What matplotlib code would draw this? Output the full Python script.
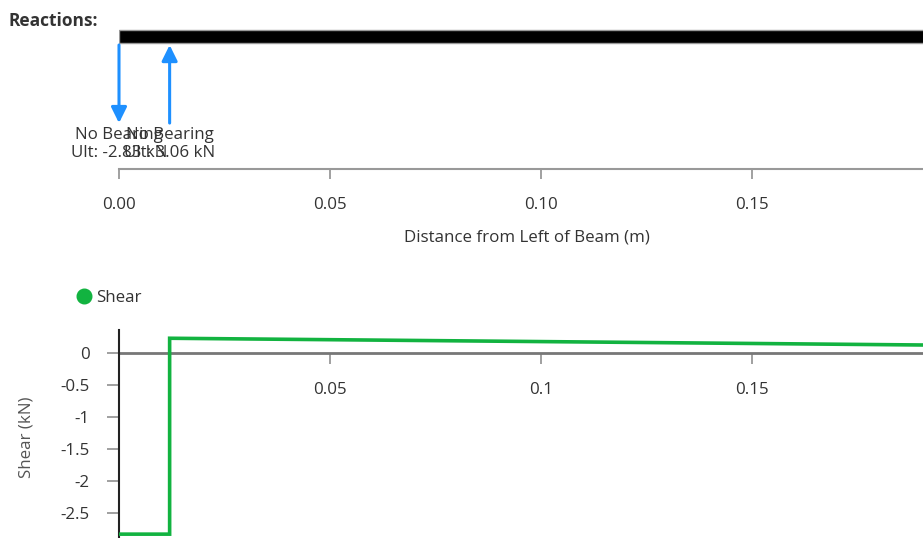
import matplotlib
matplotlib.use("Agg")
import matplotlib.pyplot as plt
from matplotlib.lines import Line2D

plt.rcParams['font.family'] = ['Open Sans', 'DejaVu Sans']

# --- data -------------------------------------------------------------
x_ticks = [0.0, 0.05, 0.10, 0.15]
x_tick_labels_top = ["0.00", "0.05", "0.10", "0.15"]
x_ticks_shear = [0.05, 0.1, 0.15]
x_tick_labels_shear = ["0.05", "0.1", "0.15"]
y_ticks_shear = [0, -0.5, -1, -1.5, -2, -2.5]
y_tick_labels_shear = ["0", "-0.5", "-1", "-1.5", "-2", "-2.5"]

reaction_pos = [0.0, 0.012]          # m
reaction_val = [-2.83, 3.06]         # kN
reaction_name = ["No Bearing", "No Bearing"]

shear_x = [0.0, 0.012, 0.012, 0.1934]
shear_v = [-2.83, -2.83, 0.23, 0.123]

beam_length = 0.2
x_max = 0.1934

# --- style ------------------------------------------------------------
W, H = 923, 538
TEXT = "#333333"
BLUE = "#1e90ff"
GREEN = "#12b340"
FS = 12.2

fig = plt.figure(figsize=(W / 100, H / 100), dpi=100)
fig.patch.set_facecolor("white")


def px_rect(left, top, right, bottom):
    return [left / W, 1 - bottom / H, (right - left) / W, (bottom - top) / H]


fig.text(8 / W, 1 - 21 / H, "Reactions:", fontsize=12.5, fontweight="bold",
         color=TEXT, va="center", ha="left")

# --- reactions panel --------------------------------------------------
ax1 = fig.add_axes(px_rect(119, 25, 935, 169))
ax1.set_xlim(0, x_max)
ax1.set_ylim(0, 1)
ax1.barh(0.92, beam_length, height=0.09, left=0, color="black",
         edgecolor="#999999", linewidth=1)

y_beam, y_lab = 0.861, 0.319
for xp, val, name in zip(reaction_pos, reaction_val, reaction_name):
    if val < 0:
        start, end = y_beam, y_lab
    else:
        start, end = y_lab, y_beam
    ax1.annotate("", xy=(xp, end), xytext=(xp, start),
                 arrowprops=dict(arrowstyle="-|>,head_length=0.95,head_width=0.47",
                                 color=BLUE, lw=2.2, shrinkA=0, shrinkB=0,
                                 mutation_scale=10))
    ax1.text(xp, 0.29, f"{name}\nUlt: {val:.2f} kN", ha="center", va="top",
             fontsize=FS, color=TEXT, linespacing=1.17)

for s in ("left", "right", "top"):
    ax1.spines[s].set_visible(False)
ax1.spines["bottom"].set_color("#999999")
ax1.spines["bottom"].set_linewidth(1.5)
ax1.set_yticks([])
ax1.set_xticks(x_ticks)
ax1.set_xticklabels(x_tick_labels_top)
ax1.tick_params(axis="x", length=7, width=1.3, color="#999999", pad=13,
                labelsize=FS, labelcolor=TEXT)
ax1.set_xlabel("Distance from Left of Beam (m)", fontsize=FS, color=TEXT,
               labelpad=12)
ax1.patch.set_alpha(0)

# --- shear panel ------------------------------------------------------
ax2 = fig.add_axes(px_rect(119, 330, 935, 544))
ax2.set_xlim(0, x_max)
ax2.set_ylim(-2.984, 0.359)
line, = ax2.plot(shear_x, shear_v, color=GREEN, lw=2.6, solid_joinstyle="miter",
                 label="Shear", zorder=3)

ax2.spines["top"].set_visible(False)
ax2.spines["right"].set_visible(False)
ax2.spines["left"].set_position(("data", 0))
ax2.spines["left"].set_color("#222222")
ax2.spines["left"].set_linewidth(1.5)
ax2.spines["bottom"].set_position(("data", 0))
ax2.spines["bottom"].set_color("#777777")
ax2.spines["bottom"].set_linewidth(2)
ax2.spines["bottom"].set_zorder(2)

ax2.set_xticks(x_ticks_shear)
ax2.set_xticklabels(x_tick_labels_shear)
ax2.set_yticks(y_ticks_shear)
ax2.set_yticklabels(y_tick_labels_shear)
ax2.tick_params(axis="x", length=8, width=1.3, color="#999999", pad=13,
                labelsize=FS, labelcolor=TEXT)
ax2.tick_params(axis="y", length=9, width=1.3, color="#999999", pad=12,
                labelsize=FS, labelcolor=TEXT)
ax2.set_ylabel("Shear (kN)", fontsize=FS, color="#555555", labelpad=19)
ax2.patch.set_alpha(0)

handle = Line2D([], [], marker="o", linestyle="none", markersize=10.5,
                markerfacecolor=GREEN, markeredgecolor=GREEN)
fig.legend([handle], ["Shear"], loc="center left",
           bbox_to_anchor=(76 / W, 1 - 298 / H), frameon=False,
           handlelength=0.9, handletextpad=0.3, borderpad=0, borderaxespad=0,
           fontsize=FS, labelcolor=TEXT)

fig.savefig("out.png", dpi=100)
